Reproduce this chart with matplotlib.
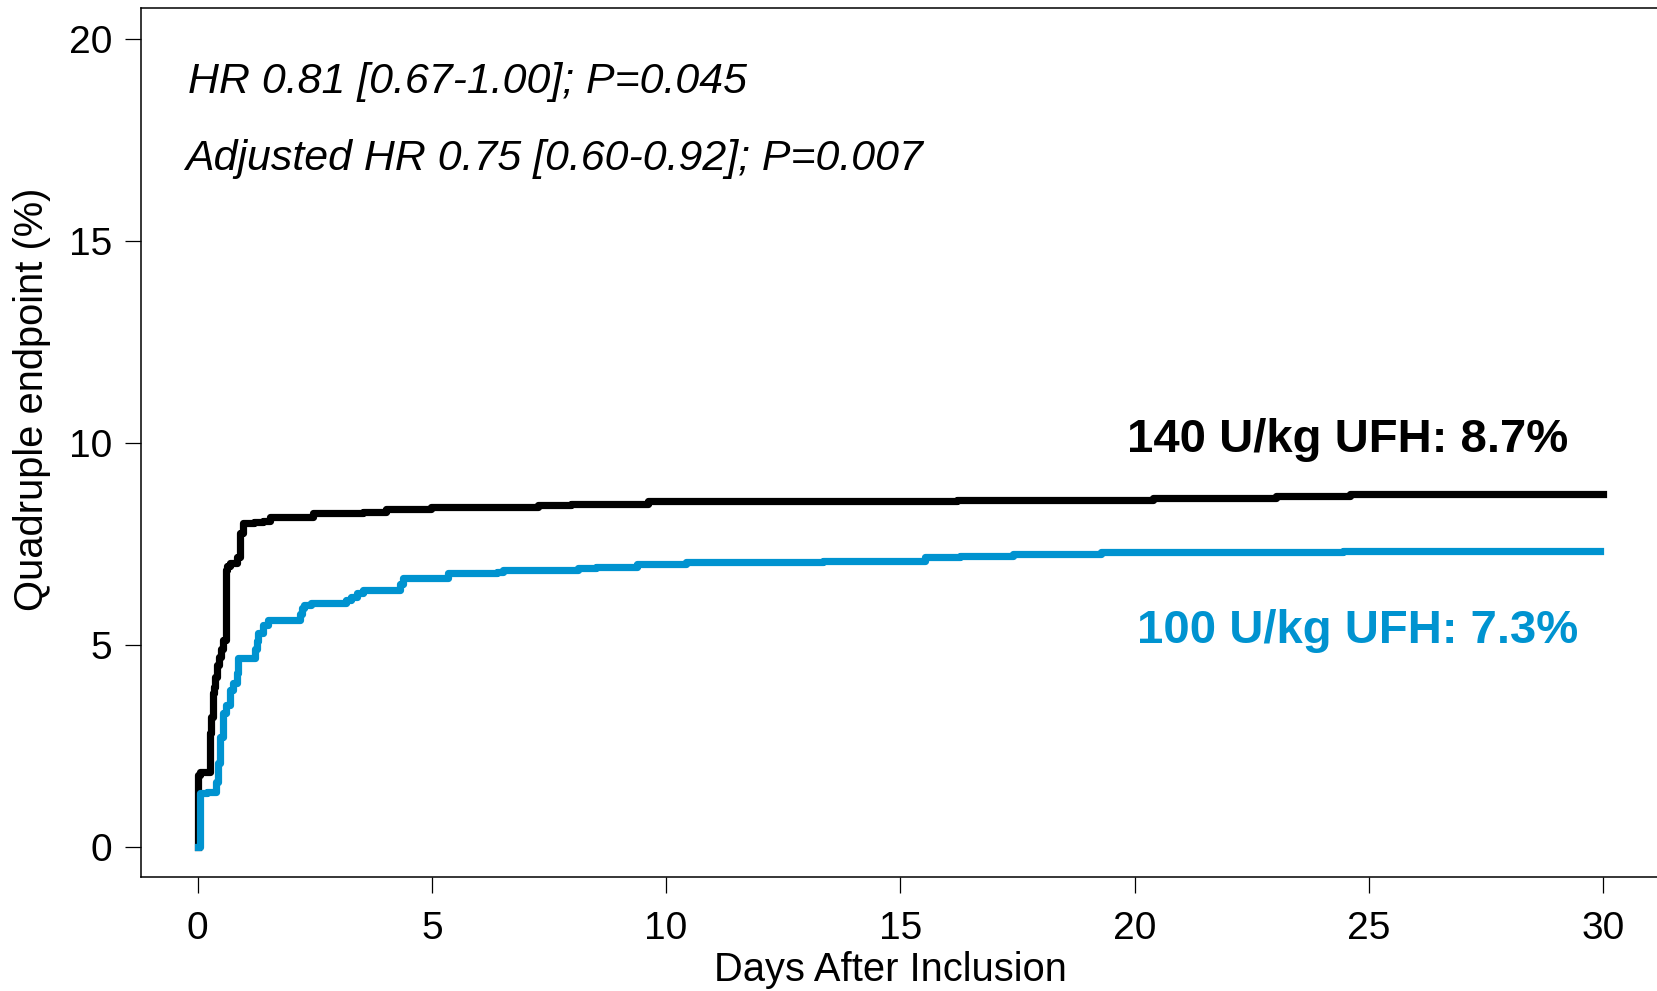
import matplotlib
matplotlib.use('Agg')
import matplotlib.pyplot as plt

plt.rcParams['font.family'] = ['Liberation Sans', 'DejaVu Sans']

# 140 U/kg UFH curve (days, cumulative %)
days_140 = [0, 0.01, 0.05, 0.26, 0.29, 0.32, 0.35, 0.38, 0.42, 0.46, 0.50, 0.55,
            0.60, 0.63, 0.68, 0.83, 0.90, 0.97, 1.2, 1.39, 1.54, 2.46, 3.53, 4.03,
            4.99, 7.26, 7.98, 9.61, 16.2, 20.4, 23.03, 24.6, 30.0]
pct_140 = [0, 1.77, 1.85, 2.8, 3.2, 3.8, 3.96, 4.2, 4.5, 4.7, 4.9, 5.11,
           6.84, 6.95, 7.01, 7.17, 7.75, 8.0, 8.03, 8.06, 8.16, 8.25, 8.29, 8.35,
           8.41, 8.45, 8.49, 8.56, 8.59, 8.64, 8.68, 8.72, 8.72]

# 100 U/kg UFH curve
days_100 = [0, 0.05, 0.2, 0.40, 0.43, 0.48, 0.54, 0.6, 0.68, 0.76, 0.83, 0.86,
            1.22, 1.26, 1.29, 1.39, 1.50, 2.18, 2.23, 2.28, 2.42, 3.17, 3.28, 3.40,
            3.53, 4.31, 4.38, 5.34, 6.38, 6.52, 8.12, 8.51, 9.37, 10.43, 13.35,
            15.52, 16.27, 17.41, 19.29, 24.45, 29.93]
pct_100 = [0, 1.32, 1.36, 1.6, 2.06, 2.7, 3.3, 3.5, 3.87, 4.05, 4.29, 4.66,
           4.9, 5.1, 5.28, 5.48, 5.62, 5.75, 5.9, 5.97, 6.04, 6.1, 6.18, 6.27,
           6.35, 6.5, 6.64, 6.76, 6.8, 6.84, 6.89, 6.93, 6.99, 7.05, 7.07,
           7.16, 7.19, 7.23, 7.28, 7.32, 7.32]

x_ticks = [0, 5, 10, 15, 20, 25, 30]
y_ticks = [0, 5, 10, 15, 20]

label_140 = '140 U/kg UFH: 8.7%'
label_100 = '100 U/kg UFH: 7.3%'
hr_lines = ['HR 0.81 [0.67-1.00]; P=0.045',
            'Adjusted HR 0.75 [0.60-0.92]; P=0.007']

blue = '#0093d0'

fig = plt.figure(figsize=(16.57, 9.91), dpi=100)
# axes runs off the right edge like in the original
ax = fig.add_axes([0.0848, 0.115, 0.925, 0.8774])

ax.step(days_140, pct_140, where='post', color='black', lw=5.2)
ax.step(days_100, pct_100, where='post', color=blue, lw=5.2)

ax.set_xlim(-1.22, 31.5)
ax.set_ylim(-0.755, 20.77)
ax.set_xticks(x_ticks)
ax.set_yticks(y_ticks)
ax.tick_params(axis='both', direction='out', length=11.5, width=0.9,
               labelsize=28)
ax.tick_params(axis='x', pad=13)
ax.tick_params(axis='y', pad=9)
for sp in ax.spines.values():
    sp.set_linewidth(1.1)

# curve labels
ax.text(19.83, 9.77, label_140, fontsize=34, fontweight='bold',
        color='black', ha='left', va='baseline')
ax.text(20.05, 5.04, label_100, fontsize=34, fontweight='bold',
        color=blue, ha='left', va='baseline')

# hazard ratios
ax.text(-0.21, 18.65, hr_lines[0], fontsize=30.9, style='italic',
        ha='left', va='baseline')
ax.text(-0.26, 16.74, hr_lines[1], fontsize=30.9, style='italic',
        ha='left', va='baseline')

fig.text(890 / 1657, (991 - 981) / 991, 'Days After Inclusion',
         fontsize=28.7, ha='center', va='baseline')
fig.text(32 / 1657, (991 - 399) / 991, 'Quadruple endpoint (%)',
         fontsize=28.7, rotation=90, ha='center', va='center')

fig.savefig('out.png', dpi=100)
